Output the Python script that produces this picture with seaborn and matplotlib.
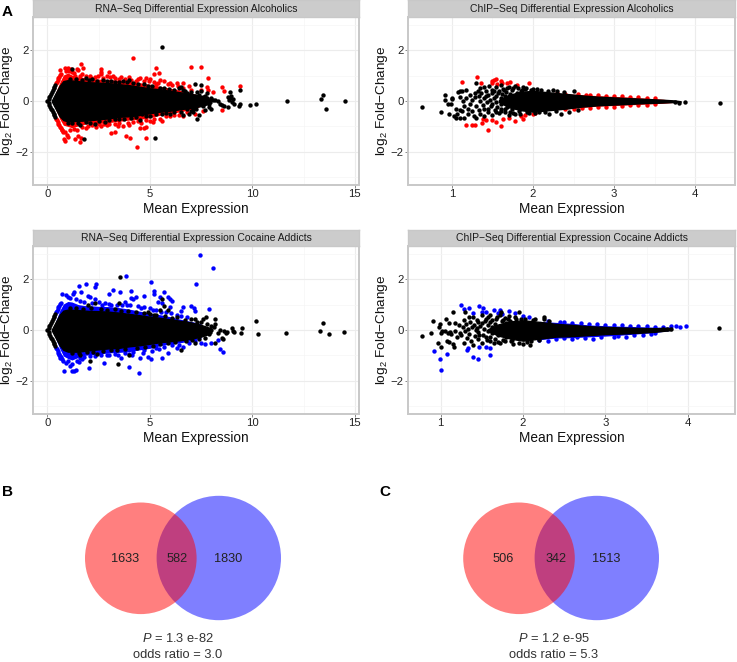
import matplotlib
matplotlib.use('Agg')
import matplotlib.pyplot as plt
from matplotlib.patches import Circle
import seaborn as sns
import pandas as pd

W, H = 737, 662

# dense part of each cloud, read as an outline (x, upper, lower)
rna_alc_body = [(.22,.02,-.02),(.4,.3,-.3),(.6,.6,-.6),(.78,.78,-.75),(1,.82,-.8),(1.5,.78,-.78),(2,.74,-.76),(2.5,.72,-.72),(3,.7,-.68),(3.5,.66,-.62),(4,.62,-.6),(4.5,.56,-.55),(5,.5,-.48),(5.5,.46,-.42),(6,.4,-.38),(6.5,.34,-.32),(7,.28,-.27),(7.5,.2,-.2),(8,.06,-.08)]
rna_alc_band = [(.4,.32,-.32),(.6,.72,-.7),(.78,1.02,-.95),(1,1.1,-1.0),(1.2,1.02,-1.05),(1.5,.95,-.98),(1.8,.92,-.92),(2,.9,-.88),(2.5,.86,-.88),(3,.84,-.85),(3.5,.82,-.8),(4,.78,-.75),(4.5,.72,-.72),(5,.66,-.66),(5.5,.58,-.56),(6,.5,-.5),(6.5,.42,-.42),(7,.32,-.34),(7.4,.22,-.24)]
rna_coc_body = [(.22,.02,-.02),(.4,.3,-.3),(.6,.6,-.6),(.78,.76,-.78),(1,.8,-.85),(1.5,.78,-.85),(2,.75,-.8),(2.5,.74,-.76),(3,.72,-.72),(3.5,.68,-.7),(4,.63,-.64),(4.5,.58,-.6),(5,.52,-.54),(5.5,.48,-.48),(6,.42,-.44),(6.5,.36,-.4),(7,.3,-.34),(7.5,.2,-.26),(8,.06,-.12)]
rna_coc_band = [(.4,.32,-.32),(.6,.75,-.72),(.78,1.02,-1.02),(1,1.12,-1.12),(1.2,1.1,-1.18),(1.5,1.0,-1.08),(1.8,.96,-1.0),(2,.96,-.98),(2.5,.93,-.95),(3,.92,-.9),(3.5,.88,-.88),(4,.82,-.85),(4.5,.74,-.78),(5,.66,-.72),(5.5,.6,-.62),(6,.52,-.55),(6.5,.42,-.5),(7,.34,-.42),(7.5,.24,-.32)]
chip_alc_body = [(1.58,.04,-.04),(1.7,.24,-.24),(1.85,.36,-.36),(2,.4,-.42),(2.2,.34,-.36),(2.4,.28,-.3),(2.6,.22,-.22),(2.8,.17,-.17),(3,.14,-.14),(3.2,.11,-.11),(3.4,.08,-.08),(3.6,.05,-.06),(3.75,.02,-.04),(3.82,-.01,-.03)]
chip_alc_band = [(2.3,.3,-.34),(2.6,.25,-.26),(2.8,.21,-.2),(3,.18,-.18),(3.2,.15,-.15),(3.4,.11,-.12),(3.6,.07,-.09),(3.72,.03,-.06)]
chip_coc_body = [(1.58,.04,-.04),(1.7,.22,-.22),(1.85,.34,-.34),(2,.38,-.42),(2.2,.32,-.34),(2.4,.24,-.26),(2.6,.2,-.24),(2.8,.15,-.2),(3,.12,-.16),(3.2,.1,-.14),(3.4,.08,-.11),(3.6,.07,-.07),(3.8,.08,.0)]
chip_coc_band = [(2.2,.34,-.38),(2.4,.3,-.32),(2.6,.26,-.3),(2.8,.2,-.27),(3,.17,-.24),(3.2,.15,-.2),(3.4,.13,-.15),(3.6,.11,-.1),(3.8,.12,-.01)]

# single points (mean expression, log2 fold change)
rna_alc_sig = [(4.2,1.69),(1.65,1.47),(7.0,1.35),(7.5,1.32),(7.85,.9),(5.3,1.3),(5.45,1.1),(5.2,1.05),(2.6,1.25),(2.6,1.15),(3.0,1.15),(1.0,1.3),(.85,1.3),(.6,1.22),(1.15,1.27),(1.45,1.25),(1.5,1.2),(1.75,1.3),(2.6,1.05),(2.9,1.0),(3.05,.95),(4.5,.92),(4.8,.9),(5.0,.85),(5.5,.82),(5.7,.8),(6.3,.72),(6.6,.7),(6.9,.6),(7.5,.45),(8.1,.35),(8.5,.55),(8.6,.38),(9.4,.57),(7.8,.55),(7.85,.45),(.9,1.18),(1.05,1.18),(1.2,1.12),(1.3,1.1),(1.7,1.05),(1.9,.98),(2.1,.98),(2.3,.95),(2.7,.92),(3.3,.9),(3.5,.88),(3.8,.86),(4.1,.84),(4.3,.8),(4.7,.78),(5.2,.76),(5.4,.72),(5.9,.65),(6.1,.62),(6.6,.5),(7.0,.42),
 (2.15,.92),(2.45,.98),(3.2,.98),(3.6,.95),(4.0,.93),(4.4,.88),(4.95,.8),(5.3,.68),(6.0,.7),(6.35,.58),(1.35,1.0),(1.6,1.0),
 (4.35,-1.82),(.8,-1.5),(.85,-1.57),(1.35,-1.5),(1.5,-1.38),(1.6,-1.6),(1.65,-1.45),(1.0,-1.4),(.95,-1.35),(3.1,-1.25),(3.3,-1.22),(3.85,-1.37),(4.05,-1.47),(4.8,-1.47),(4.5,-1.05),(4.7,-1.05),(4.8,-1.03),(2.6,-1.0),(2.9,-.95),(3.3,-.9),(3.7,-1.0),(4.0,-.95),(5.0,-.8),(5.5,-.7),(6.0,-.6),(6.4,-.55),(7.2,-.5),(7.6,-.4),(8.5,-.37),(.7,-1.15),(.85,-1.2),(1.1,-1.12),(1.3,-1.1),(1.7,-1.02),(2.0,-.98),(2.2,-.95),(2.5,-.92),(3.0,-.9),(3.5,-.85),(4.2,-.82),(4.4,-.78),(4.8,-.76),(5.2,-.72),(5.8,-.6),(6.2,-.55),(6.8,-.45),
 (2.35,-1.02),(2.75,-.9),(3.45,-.98),(3.95,-.88),(4.55,-.88),(5.15,-.84),(5.6,-.78),(6.6,-.58),(1.9,-1.05),(1.45,-1.15)]
rna_alc_other = [(5.6,2.12),(5.25,-1.45),(1.8,-1.5),(14.5,0),(11.7,0),(13.35,.08),(13.45,.25),(13.6,-.33),(10.2,-.12),(9.9,-.15),(9.4,.42),(9.4,-.1),(9.35,-.2),(9.1,-.1),(9.05,.08),(8.9,.12),(8.85,.05),(8.9,.35),(8.8,.15),(8.95,.18),(9.0,-.05),(8.8,-.25),(8.5,-.15),(8.6,-.2),(8.4,-.1),(8.3,0),(8.2,.05),(8.1,.05),(0,0),(8.0,.1),(7.8,.3),(7.5,.62),(7.2,.68),(7.0,.35),(7.3,.35),(7.5,.4),(7.7,.2),(7.3,-.7),(7.4,-.55),(7.1,-.45),(6.9,-.5),(6.6,-.55),(6.4,.5),(6.5,.55),(6.6,.45),(6.0,-.5),(8.0,-.3),(7.9,-.25),(7.7,-.35),(1.2,1.25),(1.0,-.85),(2.2,.85),(2.9,.8),(3.5,.75),(4.2,.7),(1.9,.9),(1.6,-.95),(2.3,-.9),(3.3,-.7),(4.5,-.75),(4.6,-.5),(5.3,-.5),(7.6,.15),(7.8,.12),(7.9,-.1),(7.6,-.2),(7.4,.25),(7.2,.2),(7.0,.25),(6.8,.3),(7.1,-.3),(6.8,-.32),
 (1.1,.88),(1.4,.85),(1.7,.84),(2.05,.82),(2.4,.8),(2.7,.84),(3.1,.78),(3.3,.76),(3.7,.8),(3.9,.74),(4.0,.82),(4.4,.66),(4.7,.65),(4.9,.6),(5.1,.58),(5.5,.52),(5.7,.5),(5.95,.48),(6.2,.42),(6.7,.38),(1.2,-.88),(1.5,-.86),(1.9,-.82),(2.1,-.85),(2.5,-.78),(2.8,-.82),(3.0,-.76),(3.5,-.7),(3.75,-.72),(4.1,-.68),(4.3,-.64),(4.8,-.6),(5.0,-.58),(5.6,-.52),(5.8,-.48),(6.2,-.44),(6.5,-.42),(7.0,-.38),(7.25,-.3),
 (.06,.08),(.1,.14),(.14,.2),(.18,.28),(.22,.36),(.26,.42),(.3,.5),(.34,.56),(.38,.62),(.06,-.08),(.1,-.16),(.14,-.22),(.18,-.3),(.22,-.36),(.26,-.44),(.3,-.5),(.34,-.56),(.38,-.62)]
rna_alc_fan = [(.42,.7),(.46,.76),(.5,.84),(.54,.9),(.58,.96),(.62,1.02),(.66,1.08),(.42,-.7),(.46,-.76),(.5,-.84),(.54,-.9),(.58,-.96),(.62,-1.02),(.66,-1.08),(.7,-1.14),(.74,-1.2)]

rna_coc_sig = [(7.45,2.95),(8.1,2.42),(7.25,1.8),(3.85,2.12),(5.05,1.87),(1.9,1.8),(2.35,1.8),(2.33,1.7),(1.55,1.72),(3.2,1.58),(4.1,1.55),(3.0,1.4),(3.55,1.5),(1.65,1.5),(5.2,1.55),(5.7,1.5),(5.2,1.4),(5.5,1.3),(.7,1.4),(.9,1.38),(1.0,1.3),(1.25,1.4),(1.3,1.5),(2.0,1.35),(2.1,1.3),(2.3,1.2),(4.7,1.35),(4.3,1.3),(4.1,1.25),(4.2,1.2),(5.9,1.3),(6.0,1.2),(6.1,1.15),(5.4,1.1),(5.6,1.05),(6.6,.9),(7.0,.95),(7.15,.85),(7.2,.75),(7.9,.82),(6.0,.9),(6.5,.75),(1.1,1.25),(1.4,1.2),(1.6,1.15),(1.8,1.1),(2.5,1.1),(2.8,1.05),(3.1,1.0),(3.4,1.0),(3.8,1.1),(3.9,1.0),(4.4,.95),(4.7,.9),(5.0,.85),(5.3,.8),(5.8,.72),(6.3,.6),(6.8,.5),
 (2.2,1.08),(2.65,1.0),(3.0,1.02),(3.65,.98),(4.05,.98),(4.55,.85),(5.15,.78),(5.55,.72),(6.05,.68),(6.5,.55),
 (4.45,-1.68),(4.0,-1.47),(.8,-1.6),(1.2,-1.62),(1.3,-1.6),(1.4,-1.57),(1.55,-1.25),(2.05,-1.48),(2.75,-1.28),(.9,-1.3),(1.1,-1.42),(1.2,-1.35),(1.0,-1.2),(.6,-1.1),(.55,-1.0),(3.0,-1.0),(3.6,-1.1),(4.0,-.95),(4.5,-1.1),(4.9,-1.05),(5.05,-1.15),(5.6,-1.1),(5.9,-.9),(6.3,-.7),(6.6,-.65),(7.5,-.5),(7.7,-.55),(8.0,-.5),(8.3,-.4),(8.55,-.85),(8.4,-.75),(1.6,-1.1),(1.8,-1.08),(2.3,-1.02),(2.6,-.98),(3.3,-.95),(3.8,-.9),(4.2,-.85),(4.7,-.8),(5.3,-.72),(5.7,-.65),(6.1,-.6),(6.9,-.5),(7.2,-.42),
 (2.1,-1.02),(2.9,-.98),(3.45,-1.0),(4.15,-.98),(4.65,-.9),(5.1,-.82),(5.45,-.76),(6.4,-.58),(1.45,-1.22),(1.7,-1.15)]
rna_coc_other = [(3.55,2.08),(3.45,-1.35),(2.1,-1.2),(10.2,.36),(10.25,-.14),(11.65,-.12),(13.3,-.05),(13.45,.27),(13.75,-.16),(14.45,-.08),(9.5,.08),(9.45,-.1),(9.0,.08),(9.05,-.02),(9.1,-.07),(8.75,-.07),(8.7,-.1),(8.5,-.3),(8.55,-.35),(8.2,-.5),(8.2,.25),(8.2,.42),(8.15,.1),(8.0,0),(5.6,1.2),(5.7,.95),(5.5,.8),(5.9,.8),(3.5,1.05),(2.3,1.05),(2.0,1.0),(7.0,.45),(7.2,.45),(7.6,.45),(7.75,.5),(7.3,.3),(7.5,.3),(7.8,.25),(8.0,.15),(7.9,-.15),(7.7,-.3),(7.4,-.35),(7.2,-.5),(6.5,-.8),(4.0,-1.0),(2.4,-.95),(1.6,-1.0),(8.4,.0),(8.3,-.1),(8.6,-.05),(0,0),(4.9,.7),(5.2,.6),(6.3,.5),
 (1.1,.85),(1.4,.85),(1.75,.82),(2.15,.85),(2.6,.84),(2.9,.8),(3.3,.82),(3.6,.76),(3.95,.74),(4.3,.72),(4.7,.66),(5.0,.62),(5.3,.58),(5.75,.55),(6.1,.48),(6.7,.4),(1.2,-.92),(1.55,-.92),(1.95,-.88),(2.25,-.86),(2.7,-.84),(3.1,-.8),(3.4,-.78),(3.8,-.75),(4.35,-.7),(4.75,-.66),(5.15,-.62),(5.5,-.56),(5.9,-.52),(6.25,-.48),(6.75,-.42),(7.05,-.38),
 (.06,.08),(.1,.14),(.14,.2),(.18,.28),(.22,.36),(.26,.42),(.3,.5),(.34,.56),(.38,.62),(.06,-.08),(.1,-.16),(.14,-.22),(.18,-.3),(.22,-.36),(.26,-.44),(.3,-.5),(.34,-.56),(.38,-.62)]
rna_coc_fan = [(.42,.7),(.46,.76),(.5,.84),(.54,.9),(.58,.96),(.62,1.02),(.66,1.08),(.42,-.7),(.46,-.76),(.5,-.84),(.54,-.9),(.58,-.96),(.62,-1.02),(.66,-1.08),(.7,-1.14),(.74,-1.2)]

chip_alc_sig = [(1.31,.95),(1.13,.74),(1.36,.72),(1.5,.78),(1.52,.84),(1.55,.86),(1.6,.8),(1.62,.72),(1.5,.7),(1.56,.68),(1.68,.7),(1.72,.74),(1.95,.7),(1.8,.62),(1.18,-.95),(1.25,-.95),(1.28,-.93),(1.37,-.88),(1.38,-.72),(1.42,-.75),(1.45,-1.15),(1.5,-.75),(1.54,-.82),(1.6,-.97),(1.63,-.7),(1.7,-.65),(1.78,-.78),(1.85,-.6),(1.88,-.7),(1.9,-.55),(2.0,-.52),(2.03,-.48),(2.3,.32),(2.4,.28),(2.55,.28),(2.7,.24),(2.9,.2),(3.1,.18),(3.3,.14),(3.5,.12),(2.4,-.3),(2.6,-.28),(2.8,-.24),(3.0,-.22),(3.2,-.16),(3.4,-.14),(2.65,.25),(2.8,.22),(3.0,.2),(3.2,.17),(3.4,.13),(2.5,-.3),(2.7,-.26),(2.9,-.22),(3.1,-.2),(3.3,-.15),(3.5,-.11)]
chip_alc_other = [(.63,-.22),(4.3,-.09),(3.87,-.05),(.87,-.43),(.91,.05),(.92,.22),(.95,-.1),(.97,-.52),(.99,-.1),(1.0,.12),(1.0,.08),(1.03,-.6),(1.05,-.3),(1.05,-.68),(1.07,-.5),(1.08,.35),(1.1,.38),(1.1,-.35),(1.1,-.65),(1.1,.15),(1.12,.4),(1.13,-.4),(1.14,0),(1.15,-.2),(1.15,-.65),(1.17,.42),(1.18,.1),(1.2,-.3),(1.2,-.5),(1.22,.25),(1.23,-.1),(1.25,.05),(1.25,-.4),(1.27,-.6),(1.28,.3),(1.28,.15),(1.3,-.2),(1.3,-.65),(1.3,.72),(1.32,.4),(1.33,.2),(1.33,-.35),(1.35,0),(1.35,.5),(1.35,-.5),(1.36,.3),(1.38,-.15),(1.4,.55),(1.4,.1),(1.4,-.3),(1.4,-.6),(1.42,.38),(1.43,-.05),(1.45,.22),(1.45,-.45),(1.46,.6),(1.47,.05),(1.48,-.2),(1.5,.45),(1.5,.3),(1.5,-.1),(1.5,-.55),(1.52,.12),(1.53,-.35),(1.55,.55),(1.55,.2),(1.55,-.02),(1.56,-.22),(1.58,.4),(1.58,-.48),(1.6,.62),(1.6,.1),(1.6,-.12),(1.6,-.32),(1.62,.28),(1.63,.48),(1.64,-.05),(1.65,-.42),(1.66,.18),(1.67,.36),(1.68,-.22),(1.7,.55),(1.7,.05),(1.7,-.55),(1.72,.28),(1.72,-.12),(1.74,.44),(1.74,-.32),(1.76,.14),(1.76,-.46),(1.78,.58),(1.8,.3),(1.8,-.25),(1.82,.5),(1.84,-.5),(1.86,.44),(1.88,.55),(1.92,.52),(1.95,-.48),(2.0,.48),(2.02,-.46),(2.1,.45),(2.15,-.42),(2.25,.42),(2.3,.38),(2.35,-.5),(2.5,.38),(2.45,-.42),(2.2,-.5),(3.75,-.03),(3.8,-.06),
 (1.42,.18),(1.44,-.3),(1.52,.38),(1.54,-.45),(1.57,.3),(1.6,-.4),(1.64,.42),(1.66,-.3),(1.68,.5),(1.72,-.42),(1.75,.52),(1.78,-.52),(1.83,-.38),(1.85,.38),(1.9,.46),(1.93,-.42),(1.97,.44),(2.05,.46),(2.08,-.44),(2.18,.4),(2.28,-.4),(2.38,.34),(2.55,-.36)]

chip_coc_sig = [(1.01,-1.57),(.99,-1.15),(.92,-.84),(1.08,-.96),(1.25,1.0),(1.29,.84),(1.35,.85),(1.47,.96),(1.52,.88),(1.4,-1.05),(1.46,-1.15),(1.6,-.97),(1.33,-.72),(1.32,-.78),(1.6,-.72),(1.55,-.65),(1.47,-.65),(1.65,.8),(1.72,.8),(1.83,.75),(1.9,.65),(2.0,.55),(2.07,.5),(1.4,.65),(1.5,.72),(1.55,.7),(1.7,.65),(1.75,.62),(3.97,.15),(3.9,.1),(3.85,.15),(3.8,.15),(2.3,.36),(2.5,.32),(2.7,.28),(2.9,.22),(3.1,.2),(3.3,.16),(3.5,.14),(3.7,.13),(2.2,-.38),(2.3,-.42),(2.4,-.36),(2.6,-.34),(2.65,-.28),(2.85,-.34),(3.1,-.28),(3.25,-.26),(3.45,-.18),(3.6,-.12),(2.45,.3),(2.6,.28),(2.8,.24),(3.0,.2),(3.2,.18),(3.4,.15),(3.6,.13),(2.5,-.32),(2.75,-.3),(2.95,-.28),(3.15,-.24),(3.35,-.2),(3.55,-.14)]
chip_coc_other = [(.78,-.22),(4.38,.09),(.88,-.12),(.91,.37),(.97,-.5),(.98,.13),(.99,.22),(1.0,-.68),(1.01,-.1),(1.02,-.03),(1.05,-.05),(1.07,.42),(1.08,-.42),(1.09,-.1),(1.1,.28),(1.1,-.48),(1.12,-.08),(1.13,-.15),(1.15,.72),(1.15,-.55),(1.16,-.66),(1.18,-.02),(1.18,.26),(1.2,-.28),(1.22,.2),(1.24,-.1),(1.25,-.2),(1.27,.1),(1.28,-.5),(1.29,.4),(1.3,.7),(1.3,-.05),(1.31,.25),(1.32,-.3),(1.33,.02),(1.34,.5),(1.35,-.15),(1.36,.3),(1.37,-.45),(1.38,.12),(1.4,.52),(1.4,-.6),(1.41,.2),(1.42,-.25),(1.43,0),(1.44,.38),(1.45,-.08),(1.46,-.35),(1.48,.15),(1.5,.6),(1.5,.28),(1.5,-.5),(1.52,-.2),(1.53,.05),(1.55,.42),(1.56,-.38),(1.57,.18),(1.58,-.02),(1.6,.6),(1.6,.32),(1.6,-.28),(1.62,-.12),(1.63,.1),(1.65,-.5),(1.66,.25),(1.67,.45),(1.68,0),(1.7,-.2),(1.72,.58),(1.73,.72),(1.74,.34),(1.75,.12),(1.76,-.38),(1.78,.48),(1.8,-.28),(1.8,.28),(1.83,.55),(1.85,-.42),(1.88,-.55),(1.9,.5),(1.95,.72),(1.95,-.5),(2.0,-.55),(2.03,.45),(2.1,-.45),(2.15,.42),(2.25,.45),(2.26,.52),(2.08,-.58),(1.72,-.52),(3.7,.02),(3.75,.05),(3.8,.05),
 (1.44,.08),(1.46,.3),(1.47,-.2),(1.54,.34),(1.55,-.28),(1.58,.5),(1.6,-.44),(1.63,.38),(1.66,-.36),(1.69,.52),(1.7,-.46),(1.76,.4),(1.78,-.42),(1.82,.42),(1.84,.36),(1.87,-.38),(1.92,.44),(1.98,.42),(2.05,-.46),(2.12,.38),(2.2,-.4),(2.32,.34)]

# values from the two Venn diagrams
venn_b_counts = [1633, 582, 1830]
venn_c_counts = [506, 342, 1513]
venn_b_stats = ['1.3 e-82', '3.0']
venn_c_stats = ['1.2 e-95', '5.3']

sns.set_theme(style='white')
plt.rcParams['font.family'] = ['Liberation Sans', 'DejaVu Sans']
plt.rcParams['mathtext.fontset'] = 'custom'
plt.rcParams['mathtext.rm'] = 'Liberation Sans'
plt.rcParams['mathtext.it'] = 'Liberation Sans:italic'
plt.rcParams['mathtext.bf'] = 'Liberation Sans:bold'

fig = plt.figure(figsize=(W / 100, H / 100), dpi=100, facecolor='white')


def add_box(x0, y0, x1, y1):
    # pixel box, origin top left
    return fig.add_axes([x0 / W, 1 - y1 / H, (x1 - x0) / W, (y1 - y0) / H])


def ma_panel(box, strip_y, title, xlim, xticks, xminor, body, band, sig, other, fan, color):
    ax = add_box(box[0], box[1], box[2], box[3])
    ax.set_xlim(xlim)
    ax.set_ylim(-3.3, 3.3)
    ax.set_axisbelow(True)
    ax.set_xticks(xticks)
    ax.set_yticks([-2, 0, 2])
    ax.set_xticks(xminor, minor=True)
    ax.set_yticks([-3, -1, 1, 3], minor=True)
    ax.grid(True, which='major', color='#ececec', linewidth=0.8)
    ax.grid(True, which='minor', color='#f5f5f5', linewidth=0.5)
    ax.tick_params(which='minor', length=0)
    ax.tick_params(which='major', length=2.2, width=0.7, color='#8a8a8a',
                   labelsize=8.2, labelcolor='#222222', pad=0.8, bottom=True, left=True)
    for s in ax.spines.values():
        s.set_color('#c8c8c8')
        s.set_linewidth(1.4)

    bd = pd.DataFrame(band, columns=['x', 'hi', 'lo'])
    ax.fill_between(bd['x'], bd['lo'], bd['hi'], color=color, linewidth=0)
    sig_df = pd.DataFrame(sig + fan, columns=['mean', 'lfc'])
    sns.scatterplot(data=sig_df, x='mean', y='lfc', color=color, s=10, linewidth=0, ax=ax, legend=False)
    by = pd.DataFrame(body, columns=['x', 'hi', 'lo'])
    ax.fill_between(by['x'], by['lo'], by['hi'], color='black', linewidth=1.0, zorder=3)
    other_df = pd.DataFrame(other, columns=['mean', 'lfc'])
    sns.scatterplot(data=other_df, x='mean', y='lfc', color='black', s=10, linewidth=0, ax=ax,
                    legend=False, zorder=4)

    ax.set_xlabel('Mean Expression', fontsize=9.8, color='#111111')
    ax.set_ylabel('log$_2$ Fold\u2212Change', fontsize=9.7, color='#111111')
    ax.xaxis.set_label_coords(0.5, -0.102)
    ax.yaxis.set_label_coords(-0.054, 0.5)

    st = add_box(box[0], strip_y, box[2], box[1])
    st.set_xticks([])
    st.set_yticks([])
    st.set_facecolor('#cccccc')
    for s in st.spines.values():
        s.set_color('#c8c8c8')
        s.set_linewidth(1.0)
    st.text(0.5, 0.47, title, ha='center', va='center', fontsize=7.5, color='#1a1a1a', transform=st.transAxes)
    return ax


ma_panel((33, 17, 359, 185), 0, 'RNA\u2212Seq Differential Expression Alcoholics',
         (-0.7, 15.2), [0, 5, 10, 15], [2.5, 7.5, 12.5],
         rna_alc_body, rna_alc_band, rna_alc_sig, rna_alc_other, rna_alc_fan, '#ff0000')
ma_panel((408, 17, 735, 185), 0, 'ChIP\u2212Seq Differential Expression Alcoholics',
         (0.46, 4.49), [1, 2, 3, 4], [1.5, 2.5, 3.5],
         chip_alc_body, chip_alc_band, chip_alc_sig, chip_alc_other, [], '#ff0000')
ma_panel((33, 246, 359, 414), 230, 'RNA\u2212Seq Differential Expression Cocaine Addicts',
         (-0.7, 15.2), [0, 5, 10, 15], [2.5, 7.5, 12.5],
         rna_coc_body, rna_coc_band, rna_coc_sig, rna_coc_other, rna_coc_fan, '#0000ff')
ma_panel((408, 246, 735, 414), 230, 'ChIP\u2212Seq Differential Expression Cocaine Addicts',
         (0.606, 4.57), [1, 2, 3, 4], [1.5, 2.5, 3.5],
         chip_coc_body, chip_coc_band, chip_coc_sig, chip_coc_other, [], '#0000ff')

# overlay in pixel coordinates for the Venn diagrams and panel letters
ov = fig.add_axes([0, 0, 1, 1], zorder=10)
ov.set_xlim(0, W)
ov.set_ylim(H, 0)
ov.axis('off')
ov.patch.set_alpha(0)


def venn(x_red, x_blue, counts, stats, x_txt, x_cap):
    ov.add_patch(Circle((x_blue, 558), 62.2, facecolor='#0000ff', alpha=0.5, linewidth=0))
    ov.add_patch(Circle((x_red, 558.3), 55.8, facecolor='#ff0000', alpha=0.5, linewidth=0))
    for xt, c in zip(x_txt, counts):
        ov.text(xt, 558.7, str(c), ha='center', va='center', fontsize=9.2, color='#222222')
    ov.text(x_cap, 639, '$\\mathit{P}$ = ' + stats[0], ha='center', va='center', fontsize=9.3, color='#333333')
    ov.text(x_cap, 655, 'odds ratio = ' + stats[1], ha='center', va='center', fontsize=9.3, color='#333333')


venn(140.8, 218.8, venn_b_counts, venn_b_stats, [125, 177, 228], 178)
venn(519, 596.8, venn_c_counts, venn_c_stats, [503, 555.7, 606], 553.7)

for lab, x, y in [('A', 2, 12), ('B', 2, 492), ('C', 379.5, 492)]:
    ov.text(x, y, lab, ha='left', va='center', fontsize=11, fontweight='bold', color='black')

fig.savefig('out.png', dpi=100)
